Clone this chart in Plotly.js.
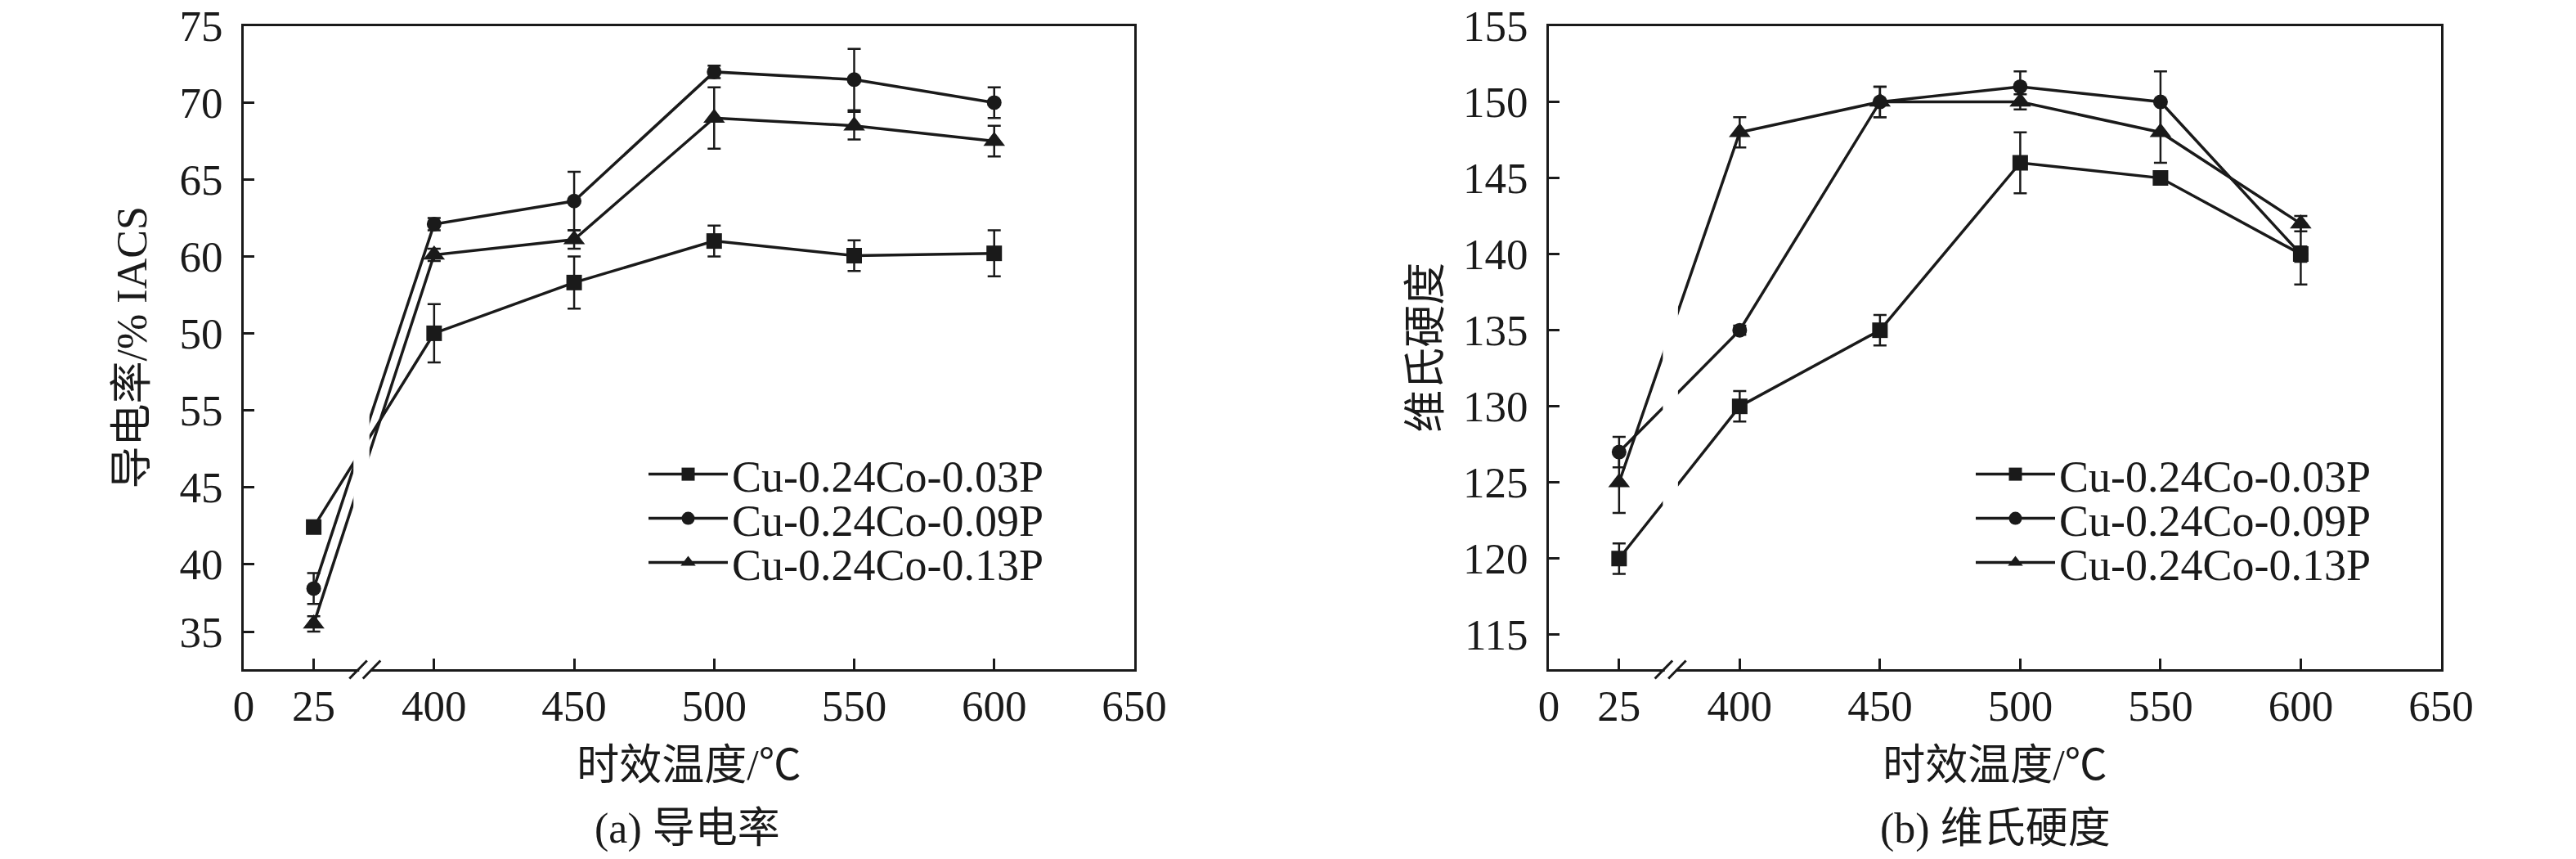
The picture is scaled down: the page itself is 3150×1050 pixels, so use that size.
<!DOCTYPE html>
<html>
<head>
<meta charset="utf-8">
<script src="https://cdn.plot.ly/plotly-3.0.1.min.js"></script>
<style>
  html, body { margin: 0; padding: 0; background: #fff; }
  #plot { width: 3150px; height: 1050px; }
</style>
</head>
<body>
<div id="plot"></div>
<script>
// ageing temperature, °C
const tempC = [25, 400, 450, 500, 550, 600];
const seriesNames = ['Cu-0.24Co-0.03P', 'Cu-0.24Co-0.09P', 'Cu-0.24Co-0.13P'];

// (a) conductivity, %IACS (read by position; source labels 50/55 are swapped)
const condP03 = [42.4, 55.0, 58.3, 61.0, 60.05, 60.2];
const condP09 = [38.4, 62.1, 63.6, 72.0, 71.5, 70.0];
const condP13 = [36.1, 60.1, 61.1, 69.0, 68.5, 67.5];
const condErrP03 = [0, 1.9, 1.7, 1.0, 1.0, 1.5];
const condErrP09 = [1.0, 0.4, 1.9, 0.4, 2.0, 1.0];
const condErrP13 = [0.5, 0.4, 0.6, 2.0, 0.9, 1.0];

// (b) Vickers hardness
const hardP03 = [120, 130, 135, 146, 145, 140];
const hardP09 = [127, 135, 150, 151, 150, 140];
const hardP13 = [125, 148, 150, 150, 148, 142];
const hardErrP03 = [1.0, 1.0, 1.0, 2.0, 0.3, 2.0];
const hardErrP09 = [1.0, 0.3, 1.0, 1.0, 2.0, 0.5];
const hardErrP13 = [2.0, 1.0, 1.0, 0.5, 2.0, 0.5];

// tick labels
const xTickTemps = [0, 25, 400, 450, 500, 550, 600, 650];
const condTickVals = [35.6, 40, 45, 50, 55, 60, 65, 70, 75];
const condTickText = ['35', '40', '45', '55', '50', '60', '65', '70', '75'];
const hardTickVals = [115, 120, 125, 130, 135, 140, 145, 150, 155];

// broken x axis: everything above the break is shifted left
const BREAK_SHIFT = 332;
const pos = t => (t > 100 ? t - BREAK_SHIFT : t);

const symbols = ['square', 'circle', 'triangle-up'];
const markerSizes = [19, 18, 23];
const ink = '#1a1a1a';
const serif = 'Liberation Serif, Times New Roman, Noto Sans CJK SC, serif';

function makeTrace(i, yVals, errs, axisSuffix, legendName) {
    return {
        x: tempC.map(pos),
        y: yVals,
        type: 'scatter',
        mode: 'lines+markers',
        name: seriesNames[i],
        xaxis: 'x' + axisSuffix,
        yaxis: 'y' + axisSuffix,
        legend: legendName,
        line: { color: ink, width: 3.5 },
        marker: { symbol: symbols[i], size: markerSizes[i], color: ink },
        error_y: { type: 'data', array: errs, visible: true, color: ink, thickness: 2.5, width: 8 }
    };
}

const traces = [
    makeTrace(0, condP03, condErrP03, '', 'legend'),
    makeTrace(1, condP09, condErrP09, '', 'legend2'),
    makeTrace(2, condP13, condErrP13, '', 'legend3'),
    makeTrace(0, hardP03, hardErrP03, '2', 'legend4'),
    makeTrace(1, hardP09, hardErrP09, '2', 'legend5'),
    makeTrace(2, hardP13, hardErrP13, '2', 'legend6')
];

const xBase = {
    range: [0, pos(650)],
    tickmode: 'array',
    tickvals: xTickTemps.map(pos),
    ticktext: xTickTemps.map(String),
    ticks: 'inside', ticklen: 13, tickwidth: 3, tickcolor: ink,
    showline: true, linewidth: 3, linecolor: ink, mirror: true,
    showgrid: false, zeroline: false,
    tickfont: { family: serif, size: 53, color: ink },
    ticklabelstandoff: -4,
    title: { text: '时效温度/℃', font: { family: serif, size: 52, color: ink }, standoff: 26 }
};
const yBase = {
    tickmode: 'array',
    ticks: 'inside', ticklen: 13, tickwidth: 3, tickcolor: ink,
    showline: true, linewidth: 3, linecolor: ink, mirror: true,
    showgrid: false, zeroline: false,
    tickfont: { family: serif, size: 53, color: ink },
    ticklabelstandoff: 12,
    domain: [0.2209, 0.97]
};

// legend rows (px from top) for both panels
const legendRows = [580, 634, 688];
function legendAt(xPx, row) {
    return {
        x: xPx / 3150, y: 1 - legendRows[row] / 1050,
        xanchor: 'left', yanchor: 'middle',
        bgcolor: 'rgba(0,0,0,0)', borderwidth: 0,
        itemwidth: 97,
        font: { family: serif, size: 54, color: ink }
    };
}

// break decorations: white gap across the lines, gap in bottom axis, and "//"
function breakShapes(xa, ya, gap, yLo, yHi) {
    const c = 43.3;
    return [
        { type: 'rect', xref: xa, yref: ya, x0: gap[0], x1: gap[1], y0: yLo, y1: yHi,
          fillcolor: '#ffffff', line: { width: 0 }, layer: 'above' },
        { type: 'rect', xref: xa, yref: ya + ' domain', xsizemode: 'pixel', ysizemode: 'pixel',
          xanchor: c, yanchor: 0, x0: -7, x1: 7, y0: -4, y1: 4,
          fillcolor: '#ffffff', line: { width: 0 }, layer: 'above' },
        { type: 'line', xref: xa, yref: ya + ' domain', xsizemode: 'pixel', ysizemode: 'pixel',
          xanchor: c, yanchor: 0, x0: -19, y0: -11.5, x1: 2.5, y1: 10.5,
          line: { color: ink, width: 3 }, layer: 'above' },
        { type: 'line', xref: xa, yref: ya + ' domain', xsizemode: 'pixel', ysizemode: 'pixel',
          xanchor: c, yanchor: 0, x0: -2.5, y0: -11.5, x1: 19, y1: 10.5,
          line: { color: ink, width: 3 }, layer: 'above' }
    ];
}

const layout = {
    width: 3150, height: 1050,
    margin: { l: 0, r: 0, t: 0, b: 0 },
    paper_bgcolor: '#ffffff', plot_bgcolor: '#ffffff',
    font: { family: serif, color: ink },
    showlegend: true,
    hovermode: false,
    xaxis: { ...xBase, domain: [0.0946, 0.4403], anchor: 'y' },
    yaxis: { ...yBase, range: [33.15, 75], tickvals: condTickVals, ticktext: condTickText, anchor: 'x',
             title: { text: '导电率/% IACS', font: { family: serif, size: 52, color: ink }, standoff: 24 } },
    xaxis2: { ...xBase, domain: [0.6013, 0.9476], anchor: 'y2' },
    yaxis2: { ...yBase, range: [112.73, 155], tickvals: hardTickVals, ticktext: hardTickVals.map(String), anchor: 'x2',
              title: { text: '维氏硬度', font: { family: serif, size: 52, color: ink }, standoff: 11 } },
    legend: legendAt(788, 0),
    legend2: legendAt(788, 1),
    legend3: legendAt(788, 2),
    legend4: legendAt(2411, 0),
    legend5: legendAt(2411, 1),
    legend6: legendAt(2411, 2),
    shapes: [
        ...breakShapes('x', 'y', [39.2, 44.9], 33.6, 74.5),
        ...breakShapes('x2', 'y2', [40.6, 46.0], 113.2, 154.5)
    ],
    annotations: [
        { text: '(a) 导电率', xref: 'paper', yref: 'paper', x: 840 / 3150, y: 1 - 1013 / 1050,
          xanchor: 'center', yanchor: 'middle', showarrow: false,
          font: { family: serif, size: 52, color: ink } },
        { text: '(b) 维氏硬度', xref: 'paper', yref: 'paper', x: 2440 / 3150, y: 1 - 1013 / 1050,
          xanchor: 'center', yanchor: 'middle', showarrow: false,
          font: { family: serif, size: 52, color: ink } }
    ]
};

Plotly.newPlot('plot', traces, layout, { staticPlot: true, displayModeBar: false });
</script>
</body>
</html>
